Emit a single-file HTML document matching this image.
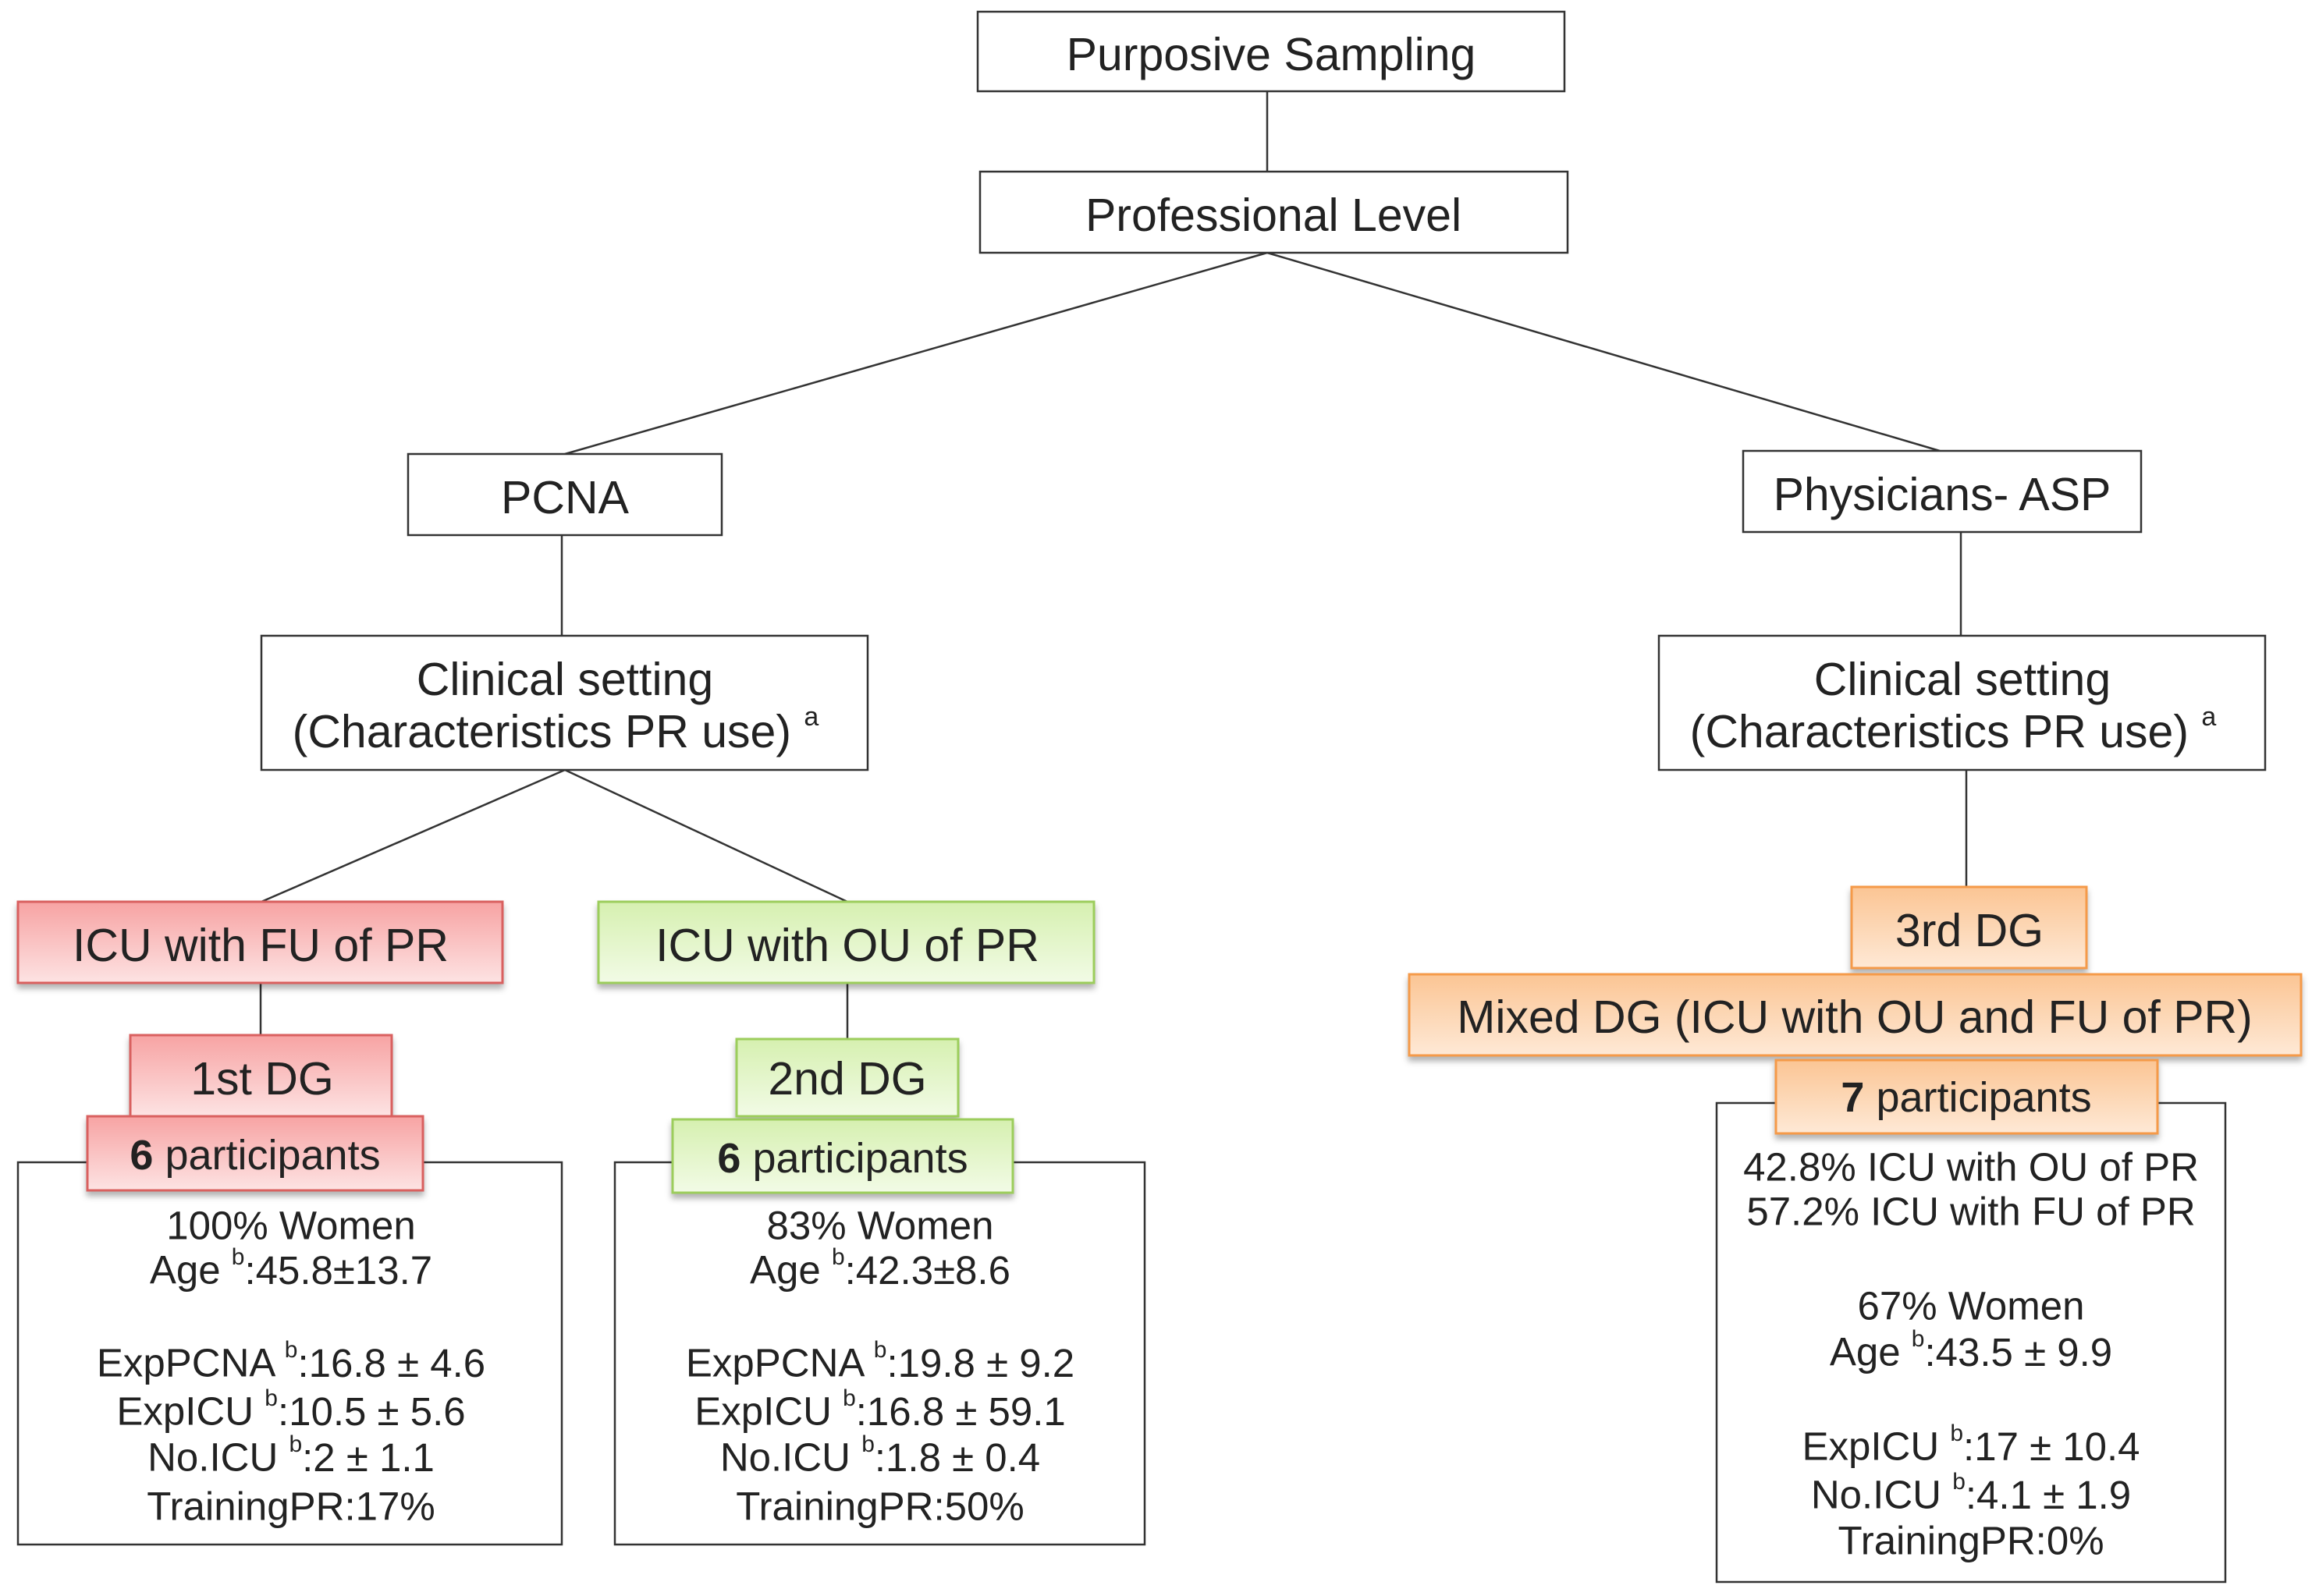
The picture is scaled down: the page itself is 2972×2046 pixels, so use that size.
<!DOCTYPE html>
<html><head><meta charset="utf-8"><style>
html,body{margin:0;padding:0;background:#fff;}
svg{display:block;}
text{font-family:"Liberation Sans",sans-serif;fill:#222;text-anchor:middle;dominant-baseline:central;}
</style></head><body>
<svg width="2972" height="2046" viewBox="0 0 2972 2046" xmlns="http://www.w3.org/2000/svg">
<defs>
<linearGradient id="red" x1="0" y1="0" x2="0" y2="1"><stop offset="0" stop-color="#f7a3a3"/><stop offset="1" stop-color="#fde3e3"/></linearGradient>
<linearGradient id="green" x1="0" y1="0" x2="0" y2="1"><stop offset="0" stop-color="#d6f0b0"/><stop offset="1" stop-color="#f2fbe6"/></linearGradient>
<linearGradient id="orange" x1="0" y1="0" x2="0" y2="1"><stop offset="0" stop-color="#fbc594"/><stop offset="1" stop-color="#fee9d6"/></linearGradient>
<filter id="sh" x="-5%" y="-20%" width="110%" height="150%"><feDropShadow dx="0" dy="6" stdDeviation="4" flood-color="#000" flood-opacity="0.3"/></filter>
</defs>
<g stroke="#333" stroke-width="2.5" fill="none">
<line x1="1624" y1="117" x2="1624" y2="220"/>
<line x1="1624" y1="324" x2="724" y2="582"/>
<line x1="1624" y1="324" x2="2486" y2="578"/>
<line x1="720" y1="686" x2="720" y2="815"/>
<line x1="2513" y1="682" x2="2513" y2="815"/>
<line x1="724" y1="987" x2="335" y2="1156"/>
<line x1="724" y1="987" x2="1086" y2="1156"/>
<line x1="334" y1="1260" x2="334" y2="1327"/>
<line x1="1086" y1="1260" x2="1086" y2="1332"/>
<line x1="2520" y1="987" x2="2520" y2="1137"/>
</g>
<g stroke="#333" stroke-width="2.5" fill="#fff">
<rect x="1253" y="15" width="752" height="102"/>
<rect x="1256" y="220" width="753" height="104"/>
<rect x="523" y="582" width="402" height="104"/>
<rect x="2234" y="578" width="510" height="104"/>
<rect x="335" y="815" width="777" height="172"/>
<rect x="2126" y="815" width="777" height="172"/>
<rect x="23" y="1490" width="697" height="490"/>
<rect x="788" y="1490" width="679" height="490"/>
<rect x="2200" y="1414" width="652" height="614"/>
</g>
<g filter="url(#sh)" stroke-width="3">
<rect x="23" y="1156" width="621" height="104" fill="url(#red)" stroke="#d9605f"/>
<rect x="167" y="1327" width="335" height="104" fill="url(#red)" stroke="#d9605f"/>
<rect x="112" y="1431" width="430" height="95" fill="url(#red)" stroke="#d9605f"/>
<rect x="767" y="1156" width="635" height="104" fill="url(#green)" stroke="#9ccd5c"/>
<rect x="944" y="1332" width="284" height="99" fill="url(#green)" stroke="#9ccd5c"/>
<rect x="862" y="1435" width="436" height="94" fill="url(#green)" stroke="#9ccd5c"/>
<rect x="2373" y="1137" width="301" height="104" fill="url(#orange)" stroke="#f59a4a"/>
<rect x="1806" y="1249" width="1143" height="104" fill="url(#orange)" stroke="#f59a4a"/>
<rect x="2276" y="1359" width="489" height="94" fill="url(#orange)" stroke="#f59a4a"/>
</g>
<g font-size="59">
<text x="1629" y="70">Purposive Sampling</text>
<text x="1632" y="276">Professional Level</text>
<text x="724" y="638">PCNA</text>
<text x="2489" y="634">Physicians- ASP</text>
<text x="724" y="871">Clinical setting</text>
<text x="712" y="938">(Characteristics PR use) <tspan font-size="34" dy="-19">a</tspan></text>
<text x="2515" y="871">Clinical setting</text>
<text x="2503" y="938">(Characteristics PR use) <tspan font-size="34" dy="-19">a</tspan></text>
<text x="334" y="1212">ICU with FU of PR</text>
<text x="1086" y="1212">ICU with OU of PR</text>
<text x="336" y="1383">1st DG</text>
<text x="1086" y="1383">2nd DG</text>
<text x="2524" y="1193">3rd DG</text>
<text x="2377" y="1304">Mixed DG (ICU with OU and FU of PR)</text>
</g>
<g font-size="54">
<text x="327" y="1481"><tspan font-weight="bold">6</tspan> participants</text>
<text x="1080" y="1485"><tspan font-weight="bold">6</tspan> participants</text>
<text x="2520" y="1407"><tspan font-weight="bold">7</tspan> participants</text>
</g>
<g font-size="51">
<text x="373" y="1571">100% Women</text>
<text x="373" y="1628">Age <tspan font-size="30" dy="-17">b</tspan><tspan dy="17">:45.8±13.7</tspan></text>
<text x="373" y="1747">ExpPCNA <tspan font-size="30" dy="-17">b</tspan><tspan dy="17">:16.8 ± 4.6</tspan></text>
<text x="373" y="1809">ExpICU <tspan font-size="30" dy="-17">b</tspan><tspan dy="17">:10.5 ± 5.6</tspan></text>
<text x="373" y="1868">No.ICU <tspan font-size="30" dy="-17">b</tspan><tspan dy="17">:2 ± 1.1</tspan></text>
<text x="373" y="1931">TrainingPR:17%</text>
<text x="1128" y="1571">83% Women</text>
<text x="1128" y="1628">Age <tspan font-size="30" dy="-17">b</tspan><tspan dy="17">:42.3±8.6</tspan></text>
<text x="1128" y="1747">ExpPCNA <tspan font-size="30" dy="-17">b</tspan><tspan dy="17">:19.8 ± 9.2</tspan></text>
<text x="1128" y="1809">ExpICU <tspan font-size="30" dy="-17">b</tspan><tspan dy="17">:16.8 ± 59.1</tspan></text>
<text x="1128" y="1868">No.ICU <tspan font-size="30" dy="-17">b</tspan><tspan dy="17">:1.8 ± 0.4</tspan></text>
<text x="1128" y="1931">TrainingPR:50%</text>
<text x="2526" y="1496">42.8% ICU with OU of PR</text>
<text x="2526" y="1553">57.2% ICU with FU of PR</text>
<text x="2526" y="1674">67% Women</text>
<text x="2526" y="1733">Age <tspan font-size="30" dy="-17">b</tspan><tspan dy="17">:43.5 ± 9.9</tspan></text>
<text x="2526" y="1854">ExpICU <tspan font-size="30" dy="-17">b</tspan><tspan dy="17">:17 ± 10.4</tspan></text>
<text x="2526" y="1916">No.ICU <tspan font-size="30" dy="-17">b</tspan><tspan dy="17">:4.1 ± 1.9</tspan></text>
<text x="2526" y="1975">TrainingPR:0%</text>
</g>
</svg>
</body></html>
